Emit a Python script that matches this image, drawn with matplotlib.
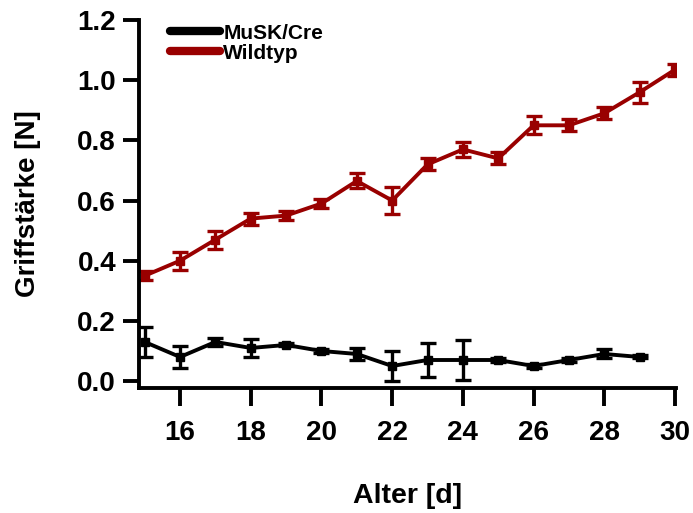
import matplotlib.pyplot as plt

plt.rcParams['font.family'] = ['Liberation Sans', 'DejaVu Sans']
plt.rcParams['font.weight'] = 'bold'

days_wt = [15, 16, 17, 18, 19, 20, 21, 22, 23, 24, 25, 26, 27, 28, 29, 30]
wildtyp = [0.35, 0.40, 0.47, 0.54, 0.55, 0.59, 0.665, 0.60, 0.72, 0.77, 0.74, 0.85, 0.85, 0.89, 0.96, 1.035]
wildtyp_err = [0.015, 0.03, 0.03, 0.02, 0.015, 0.015, 0.025, 0.045, 0.02, 0.025, 0.02, 0.03, 0.02, 0.02, 0.035, 0.02]

days_ko = [15, 16, 17, 18, 19, 20, 21, 22, 23, 24, 25, 26, 27, 28, 29]
musk = [0.13, 0.08, 0.13, 0.11, 0.12, 0.10, 0.09, 0.05, 0.07, 0.07, 0.07, 0.05, 0.07, 0.09, 0.08]
musk_err = [0.05, 0.035, 0.012, 0.03, 0.005, 0.008, 0.02, 0.05, 0.055, 0.065, 0.005, 0.008, 0.005, 0.015, 0.005]

red = '#990000'

fig = plt.figure(figsize=(6.93, 5.13), dpi=100)
ax = fig.add_axes([0.2006, 0.2437, 0.775, 0.7173])

ax.errorbar(days_ko, musk, yerr=musk_err, color='black', lw=2.8, marker='s', ms=6,
            capsize=6, capthick=2.4, elinewidth=2.4, label='MuSK/Cre')
ax.errorbar(days_wt, wildtyp, yerr=wildtyp_err, color=red, lw=2.8, marker='s', ms=6,
            capsize=6, capthick=2.4, elinewidth=2.4, label='Wildtyp')

ax.set_xlim(14.84, 30.03)
ax.set_ylim(-0.023, 1.2)
ax.set_xticks([16, 18, 20, 22, 24, 26, 28, 30])
ax.set_yticks([0.0, 0.2, 0.4, 0.6, 0.8, 1.0, 1.2])
ax.set_yticklabels(['0.0', '0.2', '0.4', '0.6', '0.8', '1.0', '1.2'])

for side in ['top', 'right']:
    ax.spines[side].set_visible(False)
for side in ['left', 'bottom']:
    ax.spines[side].set_linewidth(2.8)

ax.tick_params(axis='both', width=2.8, labelsize=20)
ax.tick_params(axis='y', length=11.5, pad=5)
ax.tick_params(axis='x', length=13, pad=10)

ax.set_xlabel('Alter [d]', fontsize=20.5, fontweight='bold', labelpad=27)
ax.set_ylabel('Griffstärke [N]', fontsize=20, fontweight='bold', labelpad=26)

handles = [plt.Line2D([], [], color='black', lw=6, solid_capstyle='round'),
           plt.Line2D([], [], color=red, lw=6, solid_capstyle='round')]
ax.legend(handles, ['MuSK/Cre', 'Wildtyp'], loc='upper left', bbox_to_anchor=(0.058, 0.99),
          frameon=False, fontsize=15, handlelength=2.4, handletextpad=0.15,
          labelspacing=0.05, borderpad=0, borderaxespad=0)

fig.savefig('out.png', dpi=100)
